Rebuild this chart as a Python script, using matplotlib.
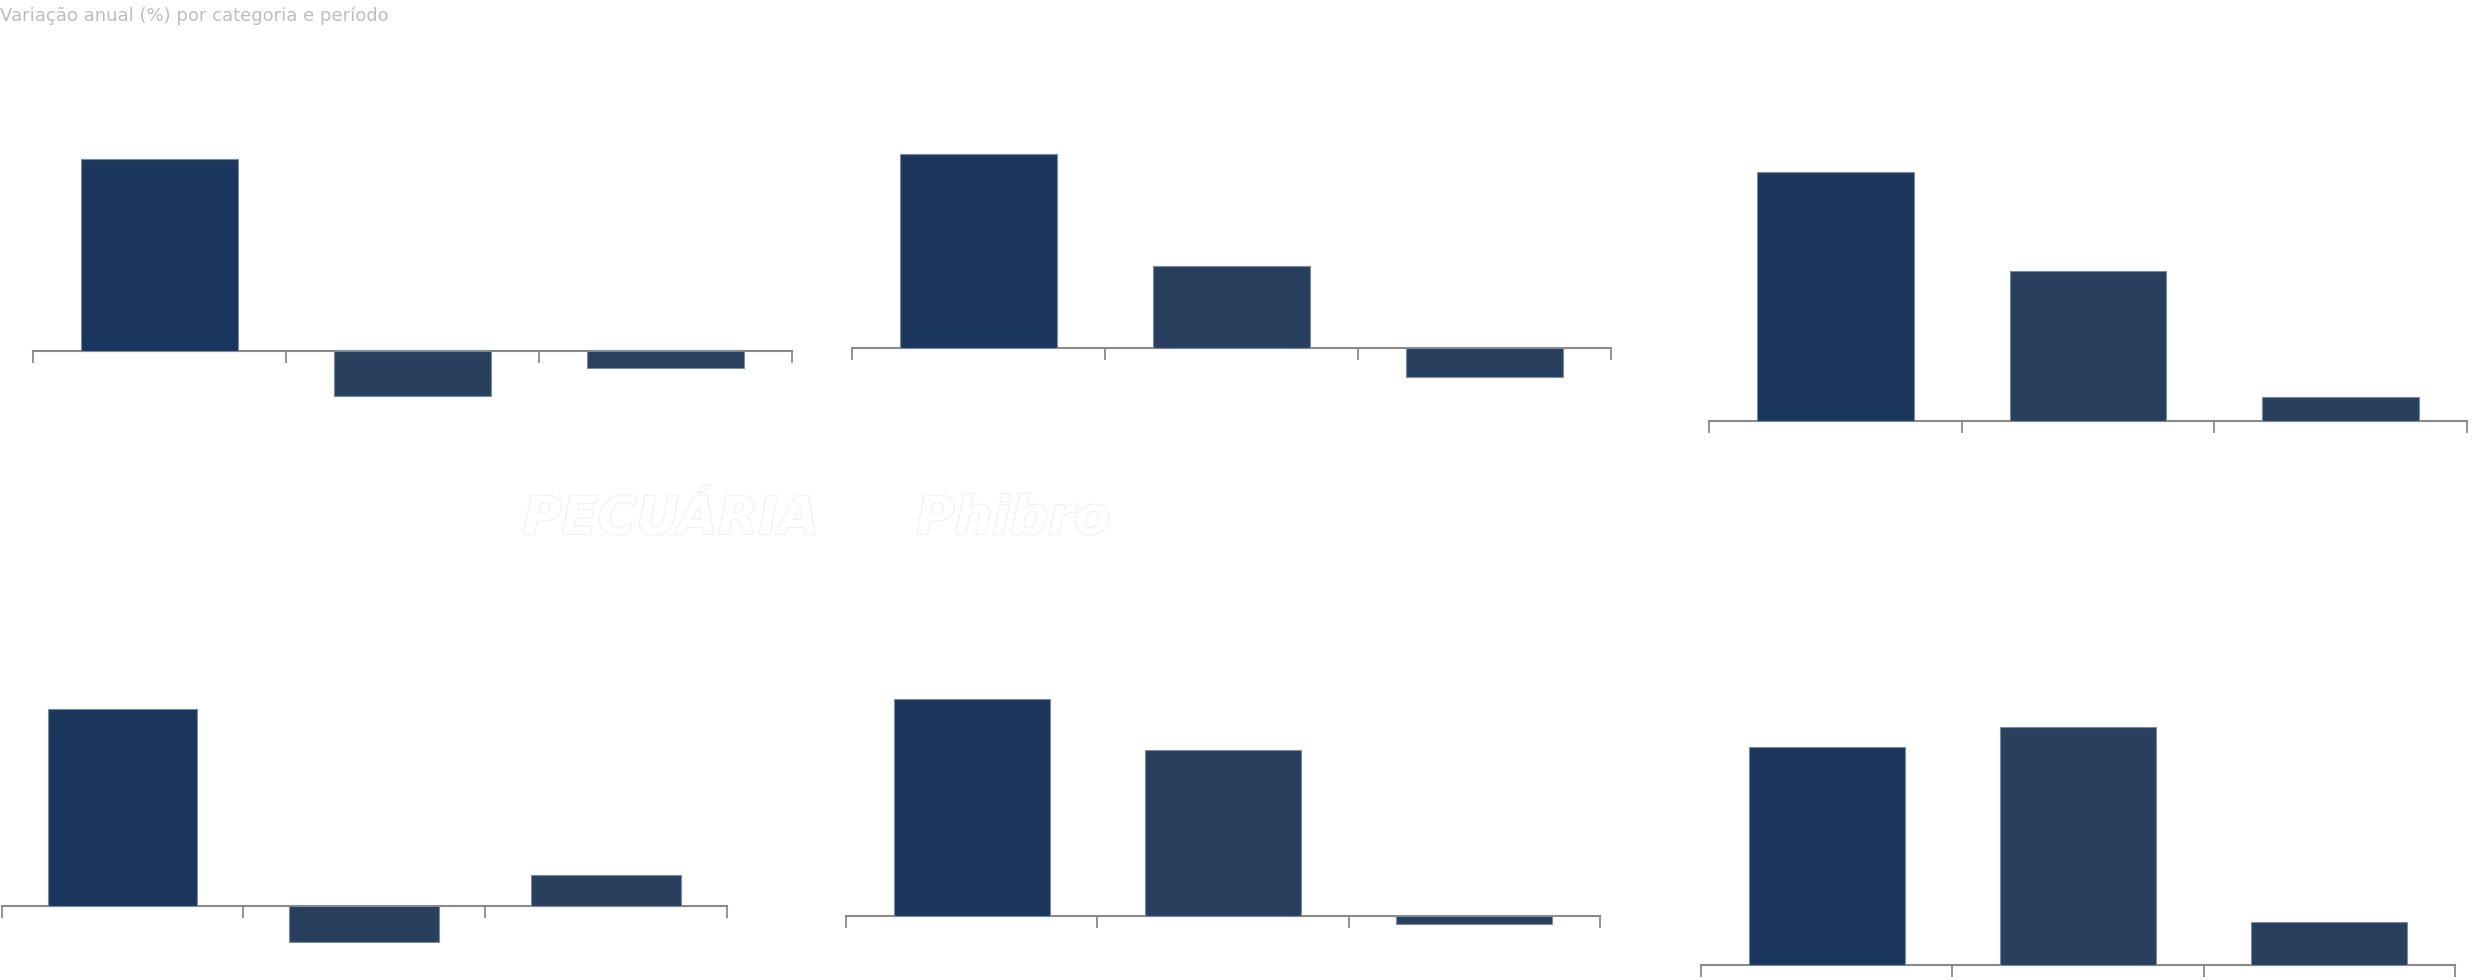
import matplotlib
matplotlib.use("Agg")
import matplotlib.pyplot as plt
import matplotlib.patheffects as pe

W, H = 2484, 980

# Data (one list per panel)
categories = ["A", "B", "C"]
panel1 = [192.0, -45.3, -17.7]
panel2 = [194.0, 81.7, -29.0]
panel3 = [249.0, 150.0, 24.0]
panel4 = [196.7, -35.7, 31.0]
panel5 = [216.7, 166.3, -7.7]
panel6 = [218.3, 238.3, 42.7]
panels = [panel1, panel2, panel3, panel4, panel5, panel6]

# layout (pixels): zero-line y, axis left, axis right
layout = [
    (350.7, 33.3, 792.0),
    (347.7, 852.0, 1611.0),
    (420.7, 1709.0, 2467.0),
    (906.0, 1.6, 727.0),
    (916.0, 846.0, 1600.0),
    (965.0, 1701.0, 2455.0),
]

bar_colors = ["#1B365D", "#283F5E", "#283F5E"]
axis_color = "#8a8a8a"

fig = plt.figure(figsize=(W / 100, H / 100), dpi=100)
fig.patch.set_facecolor("white")

for vals, (y0, xl, xr) in zip(panels, layout):
    top = y0 - 275
    bot = min(y0 + 60, H - 1)
    ax = fig.add_axes([xl / W, 1 - bot / H, (xr - xl) / W, (bot - top) / H])
    ax.set_facecolor("none")
    x = range(len(categories))
    ax.bar(x, vals, width=0.62, color=bar_colors, edgecolor="#7f8a99",
           linewidth=0.8, zorder=3)
    ax.set_xlim(-0.5, len(categories) - 0.5)
    ax.set_ylim(-(bot - y0), y0 - top)
    for s in ["left", "right", "top"]:
        ax.spines[s].set_visible(False)
    ax.spines["bottom"].set_position(("data", 0))
    ax.spines["bottom"].set_color(axis_color)
    ax.spines["bottom"].set_linewidth(1.5)
    ax.spines["bottom"].set_zorder(2)
    ax.set_xticks([-0.5, 0.5, 1.5, 2.5])
    ax.set_xticklabels([])
    ax.tick_params(axis="x", direction="out", length=8.6, width=1.3,
                   color=axis_color)
    ax.set_yticks([])

# faint top-left heading
fig.text(0.0, 1 - 21 / H, "Variação anual (%) por categoria e período",
         fontsize=13, color="#bdbdbd", ha="left", va="baseline")

# faint watermark
wm = dict(color="white", fontweight="bold", fontstyle="italic",
          path_effects=[pe.withStroke(linewidth=1.2, foreground="#ececec")])
fig.text(523 / W, 1 - 534 / H, "PECUÁRIA", fontsize=38, ha="left",
         va="baseline", **wm)
fig.text(916 / W, 1 - 534 / H, "Phibro", fontsize=38, ha="left",
         va="baseline", **wm)

fig.savefig("out.png", dpi=100, facecolor="white")
